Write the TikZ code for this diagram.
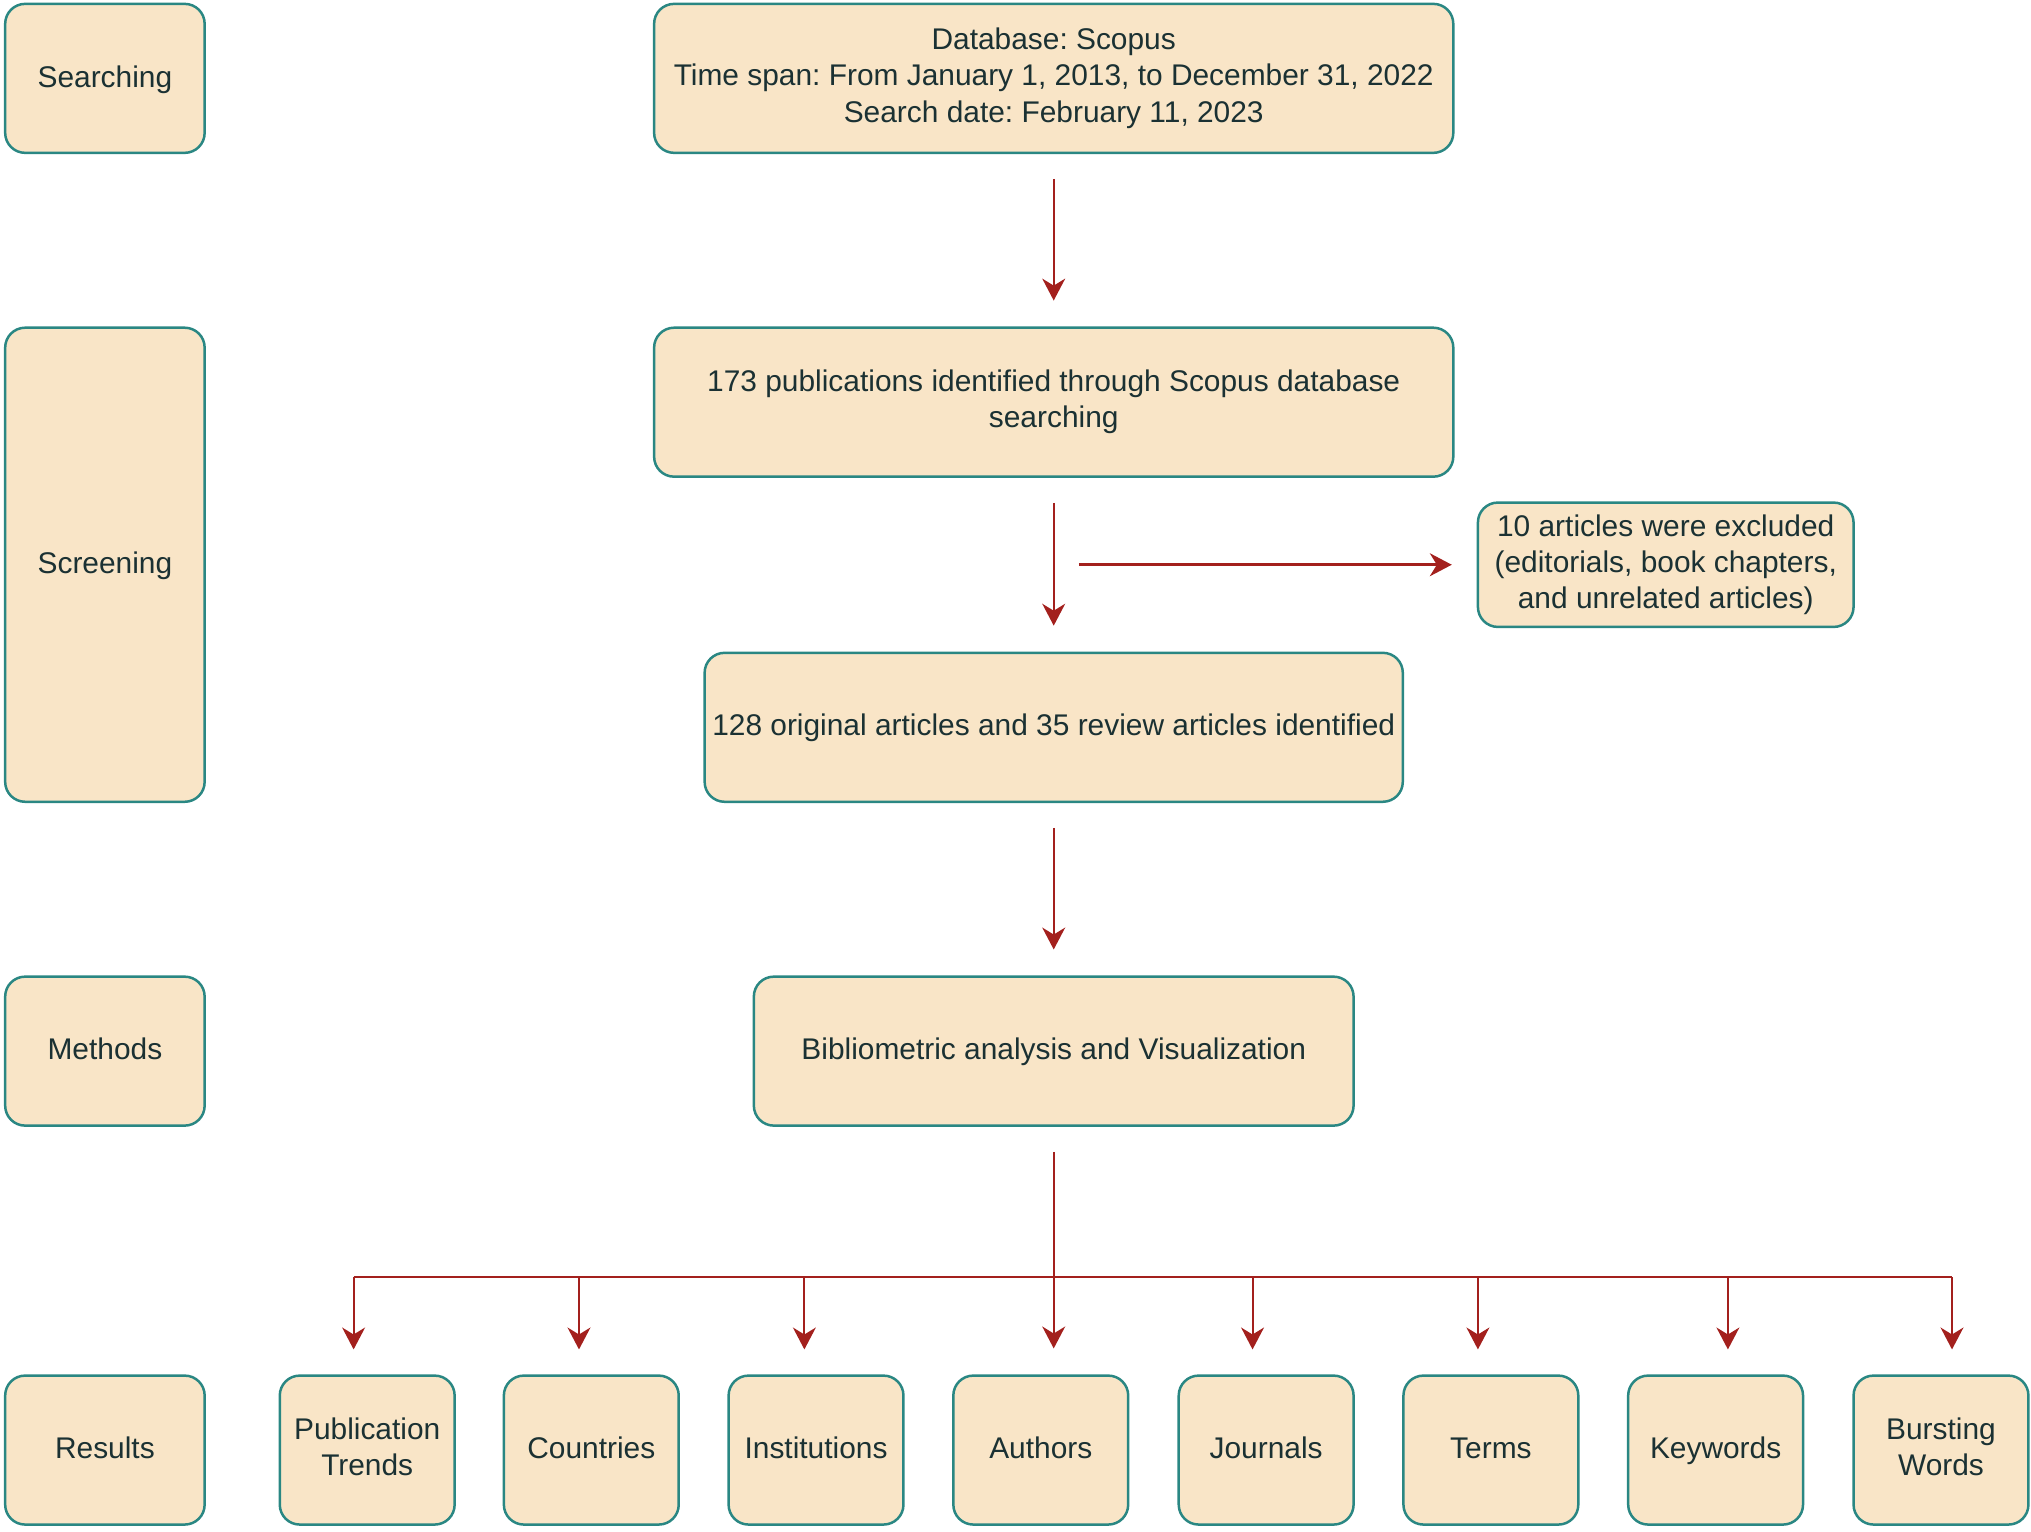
\documentclass[tikz,border=0pt]{standalone}
\usepackage{fontspec}
\setmainfont{Liberation Sans}
\usetikzlibrary{arrows.meta}
\definecolor{boxfill}{HTML}{F9E5C7}
\definecolor{boxline}{HTML}{2A8783}
\definecolor{txt}{HTML}{1B3133}
\definecolor{arr}{HTML}{A3201D}
\frenchspacing
\newcommand{\topstrut}{\rule{0pt}{12pt}}
\newcommand{\botstrut}{\rule[-3.3pt]{0pt}{3.3pt}}
\begin{document}
\begin{tikzpicture}[x=0.65pt,y=-0.65pt,
  box/.style={draw=boxline, fill=boxfill, line width=1.25pt, rounded corners=10pt,
    text=txt, align=center, font=\fontsize{15}{18.2}\selectfont, inner sep=0pt,
    execute at begin node=\topstrut, execute at end node=\botstrut},
  sz/.style 2 args={minimum width={#1*0.65pt}, minimum height={#2*0.65pt}},
  conn/.style={draw=arr, line width=1pt},
  arrow/.style={conn, -{Stealth[length=11pt, width=11.5pt, inset=3.5pt]}},
  gaps/.style={shorten <=12.5pt, shorten >=13pt}
]
\useasboundingbox (0,0) rectangle (1568,1182);
% left column
\node[box, sz={154}{115}] (searching) at (81,60.5) {Searching};
\node[box, sz={154}{366}] (screening) at (81,436) {Screening};
\node[box, sz={154}{115}] (methods) at (81,811.5) {Methods};
\node[box, sz={154}{115}] (results) at (81,1119.5) {Results};
% main column
\node[box, sz={617}{115}] (db) at (813.5,60.5) {Database: Scopus\\Time span: From January 1, 2013, to December 31, 2022\\Search date: February 11, 2023};
\node[box, sz={617}{115}] (pub) at (813.5,310.5) {173 publications identified through Scopus database\\searching};
\node[box, sz={290}{96}] (excl) at (1286,436) {10 articles were excluded\\(editorials, book chapters,\\and unrelated articles)};
\node[box, sz={539}{115}] (orig) at (813.5,561.5) {128 original articles and 35 review articles identified};
\node[box, sz={463}{115}] (biblio) at (813.5,811.5) {Bibliometric analysis and Visualization};
% results row
\node[box, sz={135}{115}] (pt) at (283.5,1119.5) {Publication\\Trends};
\node[box, sz={135}{115}] (co) at (456.5,1119.5) {Countries};
\node[box, sz={135}{115}] (in) at (630,1119.5) {Institutions};
\node[box, sz={135}{115}] (au) at (803.5,1119.5) {Authors};
\node[box, sz={135}{115}] (jo) at (977.5,1119.5) {Journals};
\node[box, sz={135}{115}] (te) at (1151,1119.5) {Terms};
\node[box, sz={135}{115}] (ke) at (1324.5,1119.5) {Keywords};
\node[box, sz={135}{115}] (bw) at (1498.5,1119.5) {Bursting\\Words};
% connectors
\draw[arrow, gaps] (db.south) -- (pub.north);
\draw[arrow, gaps] (pub.south) -- (orig.north);
\coordinate (hs) at (833,436);
\draw[arrow, line width=1.3pt, shorten >=12.5pt] (hs) -- (excl.west);
\draw[arrow, gaps] (orig.south) -- (biblio.north);
\draw[arrow, gaps] (biblio.south) -- (biblio.south |- au.north);
% bus
\coordinate (b1) at (273,986);
\coordinate (b2) at (447,986);
\coordinate (b3) at (621,986);
\coordinate (b5) at (967,986);
\coordinate (b6) at (1141,986);
\coordinate (b7) at (1334,986);
\coordinate (b8) at (1507,986);
\draw[conn, line width=1.3pt] (b1) -- (b8);
\draw[arrow, shorten >=12.5pt] (b1) -- (b1 |- pt.north);
\draw[arrow, shorten >=12.5pt] (b2) -- (b2 |- co.north);
\draw[arrow, shorten >=12.5pt] (b3) -- (b3 |- in.north);
\draw[arrow, shorten >=12.5pt] (b5) -- (b5 |- jo.north);
\draw[arrow, shorten >=12.5pt] (b6) -- (b6 |- te.north);
\draw[arrow, shorten >=12.5pt] (b7) -- (b7 |- ke.north);
\draw[arrow, shorten >=12.5pt] (b8) -- (b8 |- bw.north);
\end{tikzpicture}
\end{document}
